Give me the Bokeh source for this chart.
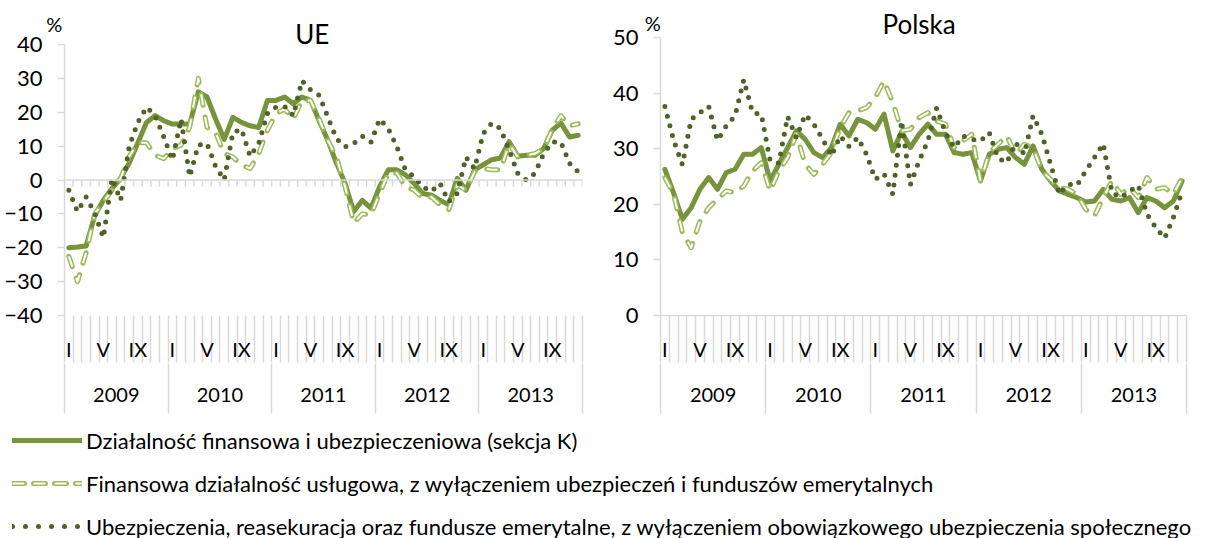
from bokeh.plotting import figure
from bokeh.models import Range1d, LinearAxis, FixedTicker, Span, Legend, LegendItem
from bokeh.layouts import column, row
from bokeh.embed import file_html
from bokeh.resources import INLINE

# ---------------- data ----------------
years = ["2009", "2010", "2011", "2012", "2013"]
month_names = ["I", "", "", "", "V", "", "", "", "IX", "", "", ""]

series_names = [
    "Działalność finansowa i ubezpieczeniowa (sekcja K)",
    "Finansowa działalność usługowa, z wyłączeniem ubezpieczeń i funduszów emerytalnych",
    "Ubezpieczenia, reasekuracja oraz fundusze emerytalne, z wyłączeniem obowiązkowego ubezpieczenia społecznego",
]

ue_k = [-20.0, -19.8, -19.5, -10.5, -6.0, -2.5, 0.5, 5.0, 11.0, 17.0, 19.0, 17.5,
        16.5, 16.5, 16.5, 26.0, 24.5, 18.0, 12.0, 18.5, 17.0, 16.0, 15.5, 23.5,
        23.5, 24.5, 22.5, 24.5, 23.5, 17.5, 11.7, 5.0, -1.0, -9.3, -6.0, -8.3,
        -2.0, 3.0, 3.0, 1.5, -1.0, -4.0, -4.5, -6.0, -7.3, 0.5, -3.0, 3.0,
        4.5, 6.0, 6.5, 11.3, 7.0, 7.3, 7.3, 9.3, 14.7, 16.8, 12.7, 13.2]
ue_fin = [-22.5, -30.0, -21.5, -10.0, -6.5, -3.0, 0.5, 7.0, 11.0, 11.0, 7.3, 6.3,
          9.3, 10.3, 15.6, 30.0, 15.6, 14.0, 7.8, 6.8, 4.4, 3.4, 7.8, 14.7,
          19.5, 21.0, 18.0, 23.5, 23.5, 18.0, 11.7, 6.8, -2.0, -12.7, -10.0, -10.3,
          -4.0, 2.0, 2.0, -2.0, -3.0, -5.4, -5.0, -7.3, -8.8, -1.5, -3.0, 2.4,
          3.4, 3.0, 3.0, 10.7, 6.8, 7.3, 7.8, 9.3, 15.0, 19.0, 16.0, 16.6]
ue_ins = [-3.0, -9.3, -5.0, -9.8, -17.0, 0.5, -6.0, 10.0, 17.0, 21.5, 19.0, 12.7,
          5.9, 18.0, 1.0, 10.3, 10.8, 4.0, 0.0, 14.0, 15.0, 7.0, 10.8, 19.6,
          21.5, 21.7, 19.0, 29.3, 26.6, 25.0, 18.6, 12.2, 9.8, 10.8, 12.9, 11.2,
          18.0, 15.2, 9.8, 2.9, 1.0, -2.0, -3.4, -1.0, -6.4, -3.9, 6.8, 3.4,
          13.7, 16.8, 15.2, 8.8, 2.0, 0.0, 2.0, 7.8, 11.2, 11.2, 4.9, 2.4]

pl_k = [26.3, 22.0, 17.3, 19.4, 22.7, 24.8, 22.7, 25.7, 26.3, 29.0, 29.0, 30.2,
        24.2, 27.2, 30.2, 33.2, 31.7, 29.3, 28.4, 30.2, 34.4, 32.3, 35.3, 34.7,
        33.5, 36.2, 29.6, 33.0, 30.2, 32.6, 34.4, 32.6, 32.6, 29.3, 29.0, 29.3,
        24.2, 29.0, 29.9, 30.2, 28.4, 27.2, 30.5, 26.3, 24.2, 22.4, 21.8, 21.2,
        20.4, 20.6, 22.7, 20.9, 20.6, 21.2, 18.5, 21.2, 20.6, 19.4, 20.6, 24.2]
pl_fin = [24.8, 21.8, 14.9, 12.2, 17.0, 19.4, 20.9, 22.4, 22.1, 23.3, 26.0, 27.5,
          22.4, 26.0, 28.4, 32.6, 27.2, 25.4, 27.2, 29.3, 33.8, 36.5, 36.8, 37.4,
          39.2, 42.2, 38.3, 33.2, 33.5, 35.6, 36.5, 35.0, 34.4, 30.2, 31.4, 32.6,
          24.2, 29.3, 30.8, 32.3, 29.0, 30.8, 30.2, 26.0, 24.5, 23.0, 22.7, 21.8,
          19.1, 17.9, 21.2, 24.2, 21.8, 23.0, 21.2, 24.8, 22.7, 23.0, 21.8, 24.8]
pl_ins = [37.6, 31.5, 27.1, 35.3, 36.5, 37.6, 31.5, 34.1, 35.9, 42.4, 36.5, 36.2,
          27.9, 27.4, 35.8, 32.0, 36.1, 34.4, 31.7, 28.7, 32.3, 30.4, 32.0, 29.0,
          24.5, 25.5, 21.8, 35.0, 23.5, 27.8, 31.4, 37.3, 32.9, 30.2, 32.3, 31.7,
          31.4, 32.9, 28.3, 27.5, 31.1, 29.0, 35.9, 32.6, 27.2, 21.8, 23.6, 23.4,
          26.0, 28.4, 30.9, 22.1, 21.2, 22.4, 23.4, 18.2, 15.8, 13.9, 17.6, 22.4]

# ---------------- style ----------------
FONT = "Lato"
GRAY = "#D9D9D9"
C_K = "#77933C"
C_FIN = "#9BBB59"
C_INS = "#4F6228"
DASH_FIN = "11 12"
DASH_INS = "0 10"
NBSP = "\u00a0"

N = len(years) * len(month_names)
xs = [i + 0.5 for i in range(N)]
boundaries = list(range(N + 1))
label_pos = [i + 0.5 for i in range(N) if month_names[i % 12]]
label_over = {i + 0.5: month_names[i % 12] for i in range(N) if month_names[i % 12]}
year_pos = [j * 12 + 6 for j in range(len(years))]
year_over = {j * 12 + 6: years[j] for j in range(len(years))}
year_bounds = [j * 12 for j in range(len(years) + 1)]

FRAME_TOP = 37      # px from the top of each panel figure
FRAME_H = 278       # px height of each plotting frame
FIG_H = 414


def text_axis(tick, text, size, standoff):
    """An axis in the top panel whose single label carries a piece of text."""
    return LinearAxis(ticker=FixedTicker(ticks=[tick]),
                      major_label_overrides={tick: text},
                      axis_line_color=None, major_tick_line_color=None,
                      minor_tick_line_color=None,
                      major_tick_out=0, major_tick_in=0,
                      major_label_standoff=standoff,
                      major_label_text_font=FONT,
                      major_label_text_font_size=size,
                      major_label_text_color="#000000")


def draw_series(p, k, fin, ins):
    p.line(xs, k, line_color=C_K, line_width=5, line_join="round", line_cap="round")
    p.line(xs, fin, line_color=C_FIN, line_width=5, line_dash=DASH_FIN,
           line_cap="round", line_join="round")
    p.line(xs, fin, line_color="white", line_width=2, line_dash=DASH_FIN,
           line_cap="butt", line_join="round")
    p.line(xs, ins, line_color=C_INS, line_width=5, line_dash=DASH_INS,
           line_cap="round", line_join="round")


def make_panel(title, k, fin, ins, ymin, ymax, width, bl, br, top_gap,
               zero_inside, title_x, title_so, pct_pad, pct_so):
    # top_gap: px between frame top and the position of ymax
    ppu = (FRAME_H - top_gap) / (ymax - ymin)
    ytop = ymax + top_gap / ppu
    p = figure(width=width, height=FIG_H, x_range=Range1d(0, N),
               y_range=Range1d(ymin, ytop), output_backend="svg",
               toolbar_location=None, x_axis_location=None, y_axis_location=None,
               min_border_left=bl, min_border_right=br, min_border_top=FRAME_TOP,
               min_border_bottom=FIG_H - FRAME_TOP - FRAME_H)
    p.outline_line_color = None
    p.xgrid.visible = False
    p.ygrid.visible = False

    yaxis = LinearAxis(ticker=FixedTicker(ticks=list(range(ymin, ymax + 1, 10))),
                       bounds=(ymin, ymax),
                       axis_line_color=GRAY, axis_line_width=1.5,
                       major_tick_line_color=GRAY, major_tick_line_width=1.5,
                       major_tick_out=7, major_tick_in=0,
                       minor_tick_line_color=None,
                       major_label_standoff=15,
                       major_label_text_font=FONT,
                       major_label_text_font_size="22px",
                       major_label_text_color="#000000")
    p.add_layout(yaxis, "left")

    p.add_layout(text_axis(title_x, title, "26px", title_so), "above")
    p.add_layout(text_axis(0, "%" + NBSP * pct_pad, "20px", pct_so), "above")

    maxis = LinearAxis(ticker=FixedTicker(ticks=label_pos, minor_ticks=boundaries),
                       major_label_overrides=label_over,
                       axis_line_color=(None if zero_inside else GRAY),
                       axis_line_width=1.5,
                       major_tick_line_color=None, major_tick_out=0, major_tick_in=0,
                       minor_tick_line_color=GRAY, minor_tick_line_width=1.5,
                       minor_tick_out=47, minor_tick_in=0,
                       major_label_standoff=-26,
                       major_label_text_font=FONT,
                       major_label_text_font_size="20px",
                       major_label_text_color="#000000")
    p.add_layout(maxis, "below")

    yrax = LinearAxis(ticker=FixedTicker(ticks=year_pos, minor_ticks=year_bounds),
                      major_label_overrides=year_over,
                      axis_line_color=None,
                      major_tick_line_color=None, major_tick_out=0, major_tick_in=0,
                      minor_tick_line_color=GRAY, minor_tick_line_width=1.5,
                      minor_tick_out=50, minor_tick_in=0,
                      major_label_standoff=-26,
                      major_label_text_font=FONT,
                      major_label_text_font_size="20px",
                      major_label_text_color="#000000")
    p.add_layout(yrax, "below")

    if zero_inside:
        p.add_layout(Span(location=0, dimension="width", line_color=GRAY, line_width=1.5))
        p.segment(x0=boundaries, y0=[0] * len(boundaries), x1=boundaries,
                  y1=[-2] * len(boundaries), line_color=GRAY, line_width=1.5)

    draw_series(p, k, fin, ins)
    return p


p1 = make_panel("UE", ue_k, ue_fin, ue_ins, -40, 40, 600, 64, 18, 7,
                True, 28.7, -12, 4, -21)
p2 = make_panel("Polska", pl_k, pl_fin, pl_ins, 0, 50, 612, 60, 26, 0,
                False, 29.5, -2, 3, -30)

# ---------------- legend ----------------
pl = figure(width=1212, height=538 - FIG_H, x_range=Range1d(0, 1), y_range=Range1d(0, 1),
            output_backend="svg", toolbar_location=None, x_axis_location=None,
            y_axis_location=None, min_border=0)
pl.outline_line_color = None
pl.xgrid.visible = False
pl.ygrid.visible = False
r1 = pl.line(x=[0], y=[0], line_color=C_K, line_width=5, line_cap="round")
r2a = pl.line(x=[0], y=[0], line_color=C_FIN, line_width=5, line_dash="12 9", line_cap="round")
r2b = pl.line(x=[0], y=[0], line_color="white", line_width=2, line_dash="12 9", line_cap="butt")
r3 = pl.line(x=[0], y=[0], line_color=C_INS, line_width=5, line_dash="0 13", line_cap="round")
legend = Legend(items=[LegendItem(label=series_names[0], renderers=[r1]),
                       LegendItem(label=series_names[1], renderers=[r2a, r2b]),
                       LegendItem(label=series_names[2], renderers=[r3])],
                location="top_left", orientation="vertical",
                glyph_width=70, glyph_height=28, label_height=28,
                label_standoff=4, spacing=15, padding=0, margin=12,
                border_line_color=None, background_fill_alpha=0,
                label_text_font=FONT, label_text_font_size="22px",
                label_text_color="#000000")
pl.add_layout(legend)

layout = column(row(p1, p2), pl)
open("out.html", "w").write(file_html(layout, INLINE))
